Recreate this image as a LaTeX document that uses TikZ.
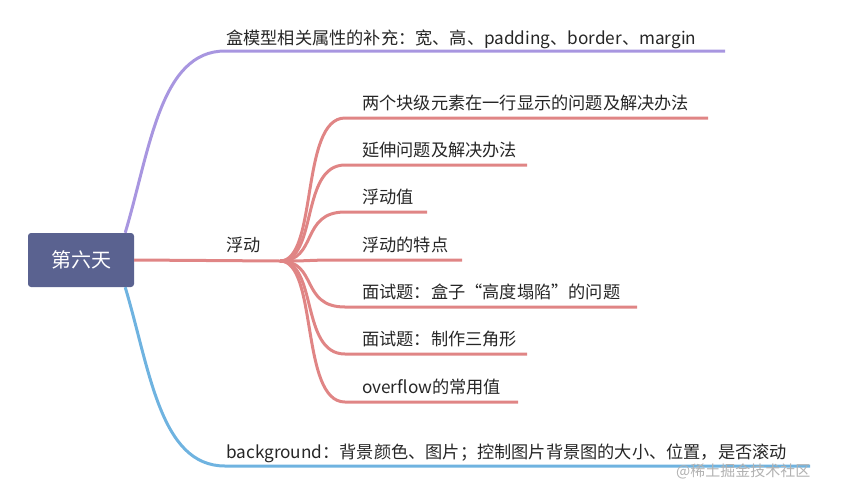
\documentclass[tikz,border=0pt]{standalone}
\usepackage{fontspec}
\setmainfont{Noto Sans CJK SC}
\begin{document}
\begin{tikzpicture}[x=1pt,y=-1pt,
  lbl/.style={anchor=base west,inner sep=0pt,font=\fontsize{17.2}{20}\selectfont,text=black!85}]
\definecolor{rd}{HTML}{E08585}
\definecolor{bl}{HTML}{6FB3E0}
\definecolor{pp}{HTML}{A896E0}
\definecolor{rootc}{HTML}{5A6290}
\useasboundingbox (0,0) rectangle (853,496);
\node[fill=rootc,rounded corners=3pt,minimum width=106pt,minimum height=54pt,text=white,font=\fontsize{20}{23}\selectfont] (root) at (81,260) {第六天};
% purple
\coordinate (p0) at (225,51); \coordinate (p1) at (725,51);
\draw[pp,line width=3pt] (root.north east)++(-9,0) .. controls (150,150) and (160,51) .. (p0) -- (p1);
\node[lbl] (pt) at (226,44) {盒模型相关属性的补充：宽、高、padding、border、margin};
% blue
\coordinate (b0) at (225,466); \coordinate (b1) at (810,466);
\draw[bl,line width=3pt] (root.south east)++(-9,0) .. controls (150,370) and (160,466) .. (b0) -- (b1);
\node[lbl] (bt) at (226,458) {background：背景颜色、图片；控制图片背景图的大小、位置，是否滚动};
% red
\coordinate (r0) at (280,261);
\draw[rd,line width=3pt] (root.east) -- (r0);
\node[lbl] (rt) at (226,251) {浮动};
\foreach \y/\e/\t in {118/708/两个块级元素在一行显示的问题及解决办法,165/527/延伸问题及解决办法,212/427/浮动值,260/462/浮动的特点,307/637/面试题：盒子“高度塌陷”的问题,354/527/面试题：制作三角形,402/518/overflow的常用值}{
  \draw[rd,line width=3pt] (r0) .. controls (318,261) and (300,\y) .. (345,\y) -- (\e,\y);
  \node[lbl] at (362,\y-9) {\t};
}
\node[anchor=base west,inner sep=0pt,text=black!30,font=\fontsize{15}{17}\selectfont] (wm) at (676,476) {@稀土掘金技术社区};
\end{tikzpicture}
\end{document}
